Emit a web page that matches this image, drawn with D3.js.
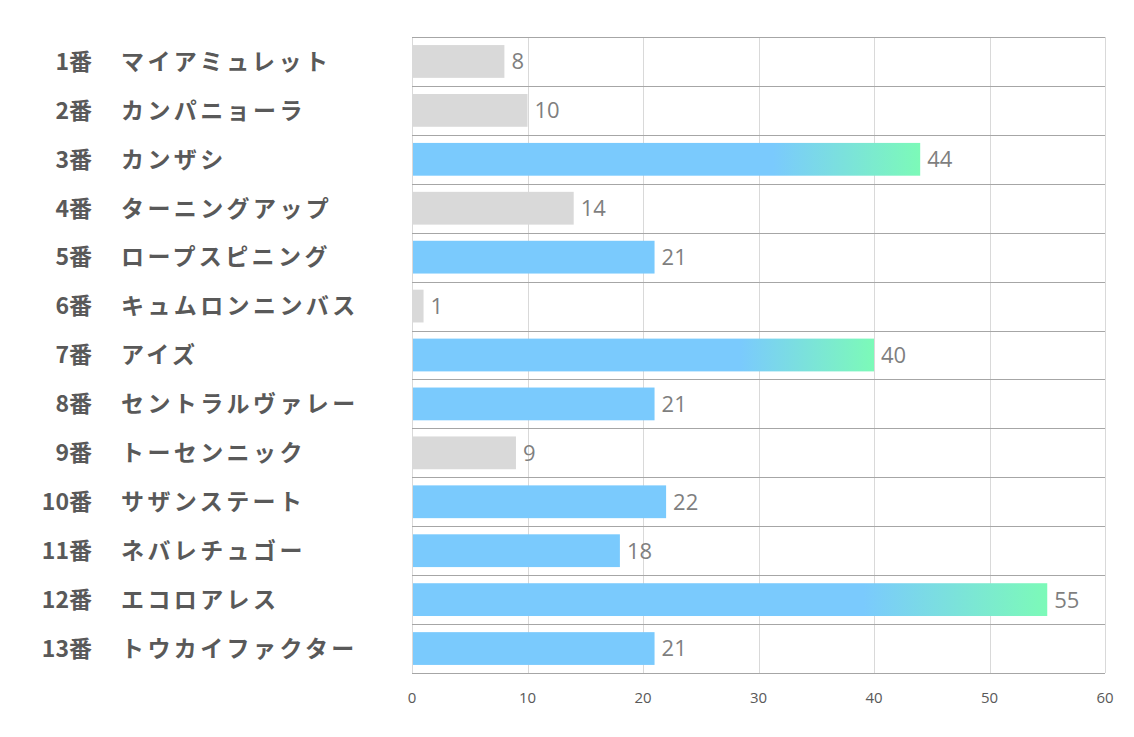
<!DOCTYPE html>
<html>
<head>
<meta charset="utf-8">
<script src="https://cdn.jsdelivr.net/npm/d3@7"></script>
<style>
  body { margin: 0; background: #fff; }
  svg { display: block; }
</style>
</head>
<body>
<div id="chart"></div>
<script>
'use strict';
var numbers = ['1番', '2番', '3番', '4番', '5番', '6番', '7番', '8番', '9番', '10番', '11番', '12番', '13番'];
var names = ['マイアミュレット', 'カンパニョーラ', 'カンザシ', 'ターニングアップ', 'ロープスピニング',
    'キュムロンニンバス', 'アイズ', 'セントラルヴァレー', 'トーセンニック', 'サザンステート',
    'ネバレチュゴー', 'エコロアレス', 'トウカイファクター'];
var values = [8, 10, 44, 14, 21, 1, 40, 21, 9, 22, 18, 55, 21];
var ticks = [0, 10, 20, 30, 40, 50, 60];

(function () {
    var width = 1134,
        height = 737;
    var plotLeft = 412, plotRight = 1105, plotTop = 37, plotBottom = 673;

    var svg = d3.select('#chart').append('svg')
        .attr('width', width)
        .attr('height', height);

    var grad = svg.append('defs').append('linearGradient')
        .attr('id', 'hot')
        .attr('x1', '0').attr('x2', '1').attr('y1', '0').attr('y2', '0');
    grad.append('stop').attr('offset', '0.71').attr('stop-color', '#7acafd');
    grad.append('stop').attr('offset', '1').attr('stop-color', '#7cfab8');

    var x = d3.scaleLinear().domain([0, 60]).range([plotLeft, plotRight]);
    var rows = d3.scaleBand().domain(d3.range(values.length)).range([plotTop, plotBottom]);
    var y = d3.scaleBand().domain(d3.range(values.length)).range([plotTop, plotBottom])
        .paddingInner(0.33).paddingOuter(0.165);

    // vertical grid
    svg.append('g').selectAll('line').data(ticks).enter().append('line')
        .attr('x1', function (d) { return Math.round(x(d)) + 0.5; })
        .attr('x2', function (d) { return Math.round(x(d)) + 0.5; })
        .attr('y1', plotTop).attr('y2', plotBottom)
        .attr('stroke', '#d9d9d9').attr('stroke-width', 1);

    // horizontal grid
    svg.append('g').selectAll('line').data(d3.range(values.length + 1)).enter().append('line')
        .attr('x1', plotLeft).attr('x2', plotRight)
        .attr('y1', function (d) { return Math.round(plotTop + d * rows.step()) + 0.5; })
        .attr('y2', function (d) { return Math.round(plotTop + d * rows.step()) + 0.5; })
        .attr('stroke', '#a6a6a6').attr('stroke-width', 1);

    var fillFor = function (v) {
        if (v >= 40) return 'url(#hot)';
        if (v >= 15) return '#7acafd';
        return '#d9d9d9';
    };

    svg.append('g').selectAll('rect').data(values).enter().append('rect')
        .attr('x', x(0) + 1)
        .attr('y', function (d, i) { return y(i); })
        .attr('width', function (d) { return x(d) - x(0) - 1; })
        .attr('height', y.bandwidth())
        .attr('fill', fillFor);

    // value labels
    svg.append('g').selectAll('text').data(values).enter().append('text')
        .attr('x', function (d) { return x(d) + 7; })
        .attr('y', function (d, i) { return rows(i) + rows.bandwidth() / 2; })
        .attr('dy', '0.36em')
        .attr('font-family', 'Open Sans, sans-serif')
        .attr('font-size', 22)
        .attr('fill', '#7f7f7f')
        .text(function (d) { return d; });

    // category labels
    var cat = svg.append('g').attr('font-family', 'Noto Sans CJK JP, sans-serif')
        .attr('font-weight', 'bold').attr('font-size', 23).attr('fill', '#595959');
    cat.selectAll('text.num').data(numbers).enter().append('text')
        .attr('class', 'num')
        .attr('x', 92)
        .attr('y', function (d, i) { return rows(i) + rows.bandwidth() / 2; })
        .attr('dy', '0.36em')
        .attr('text-anchor', 'end')
        .text(function (d) { return d; });
    cat.selectAll('text.name').data(names).enter().append('text')
        .attr('class', 'name')
        .attr('x', 121)
        .attr('y', function (d, i) { return rows(i) + rows.bandwidth() / 2; })
        .attr('dy', '0.36em')
        .attr('letter-spacing', 3.4)
        .text(function (d) { return d; });

    // x axis tick labels
    svg.append('g').selectAll('text').data(ticks).enter().append('text')
        .attr('x', function (d) { return x(d); })
        .attr('y', plotBottom + 25)
        .attr('dy', '0.36em')
        .attr('text-anchor', 'middle')
        .attr('font-family', 'Open Sans, sans-serif')
        .attr('font-size', 15)
        .attr('fill', '#595959')
        .text(function (d) { return d; });
})();
</script>
</body>
</html>
